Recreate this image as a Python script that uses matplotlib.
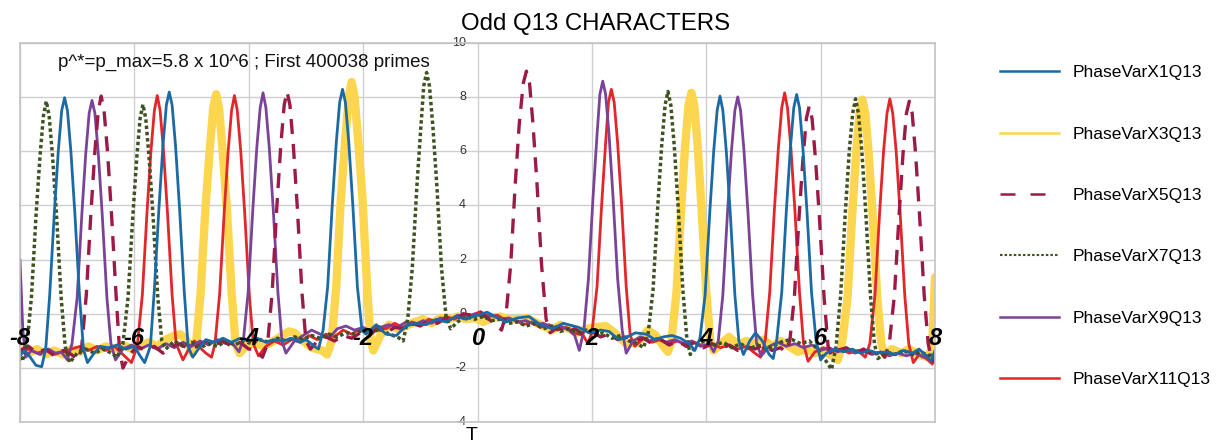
import numpy as np
import matplotlib
matplotlib.use("Agg")
import matplotlib.pyplot as plt
from matplotlib.lines import Line2D

plt.rcParams['font.family'] = ['Liberation Sans', 'DejaVu Sans']

# points (T, value)
phase_x1 = [(-8.0, -1.55), (-7.92, -1.35), (-7.82, -1.6), (-7.72, -1.9), (-7.62, -1.95),
            (-7.55, -1.3), (-7.48, 0.7), (-7.40, 3.7), (-7.33, 6.0), (-7.27, 7.5), (-7.22, 7.97),
            (-7.17, 7.5), (-7.11, 6.0), (-7.04, 3.7), (-6.96, 0.7), (-6.89, -1.3), (-6.82, -1.8),
            (-6.72, -1.5), (-6.6, -1.2), (-6.45, -1.25), (-6.3, -1.15), (-6.15, -1.3), (-6.0, -1.2),
            (-5.9, -1.55), (-5.82, -1.8),
            (-5.72, -1.2), (-5.65, 0.9), (-5.57, 3.9), (-5.50, 6.2), (-5.44, 7.7), (-5.39, 8.18),
            (-5.34, 7.7), (-5.28, 6.2), (-5.21, 3.9), (-5.13, 0.9), (-5.06, -1.2), (-4.98, -1.6),
            (-4.88, -1.3), (-4.75, -0.95), (-4.6, -1.05), (-4.45, -0.9), (-4.3, -1.05), (-4.15, -0.9),
            (-4.0, -1.0), (-3.85, -0.9), (-3.7, -1.05), (-3.55, -0.95), (-3.4, -1.0), (-3.25, -0.9),
            (-3.1, -1.05), (-3.0, -0.95), (-2.85, -1.2), (-2.78, -1.3),
            (-2.70, -0.6), (-2.62, 1.0), (-2.54, 4.0), (-2.47, 6.3), (-2.41, 7.8), (-2.36, 8.28),
            (-2.31, 7.8), (-2.25, 6.3), (-2.18, 4.0), (-2.10, 1.0), (-2.02, -0.6), (-1.95, -0.75),
            (-1.77, -0.4), (-1.6, -0.75), (-1.42, -0.8), (-1.25, -0.45), (-1.07, -0.35), (-0.9, -0.4),
            (-0.72, -0.2), (-0.55, -0.3), (-0.38, -0.1), (-0.2, -0.2), (0.0, -0.05), (0.17, 0.06),
            (0.35, -0.15), (0.5, -0.3), (0.7, -0.15), (0.9, -0.1), (1.1, -0.4), (1.3, -0.55),
            (1.5, -0.35), (1.77, -0.5), (1.95, -0.7), (2.15, -0.6), (2.3, -0.65), (2.47, -0.95),
            (2.62, -0.85), (2.76, -0.7), (2.95, -0.75), (3.1, -0.95), (3.25, -0.85), (3.4, -0.8),
            (3.55, -0.9), (3.7, -1.1), (3.8, -1.35),
            (3.89, -0.9), (3.98, 0.7), (4.06, 3.7), (4.13, 6.0), (4.19, 7.5), (4.24, 8.03),
            (4.29, 7.5), (4.35, 6.0), (4.42, 3.7), (4.50, 0.7), (4.57, -1.0), (4.65, -1.5),
            (4.76, -1.0), (4.86, -0.7), (4.98, -1.0), (5.1, -1.5), (5.17, -1.65),
            (5.23, -1.0), (5.32, 0.8), (5.40, 3.8), (5.47, 6.1), (5.53, 7.6), (5.58, 8.09),
            (5.63, 7.6), (5.69, 6.1), (5.76, 3.8), (5.84, 0.8), (5.92, -1.0), (6.0, -1.7),
            (6.1, -1.45), (6.25, -1.3), (6.4, -1.4), (6.55, -1.3), (6.7, -1.45), (6.85, -1.35),
            (7.0, -1.45), (7.15, -1.4), (7.3, -1.5), (7.45, -1.35), (7.6, -1.45), (7.72, -1.3),
            (7.85, -1.55), (7.93, -1.75), (8.0, -1.35)]

phase_x3 = [(-8.0, -1.3), (-7.85, -1.45), (-7.7, -1.3), (-7.55, -1.5), (-7.4, -1.35), (-7.25, -1.5),
            (-7.1, -1.3), (-6.95, -1.4), (-6.8, -1.2), (-6.65, -1.35), (-6.5, -1.2), (-6.35, -1.3),
            (-6.2, -1.15), (-6.05, -1.3), (-5.9, -1.2), (-5.75, -1.05), (-5.6, -1.2), (-5.45, -0.95),
            (-5.3, -0.8), (-5.2, -0.75), (-5.08, -1.0), (-4.98, -1.45),
            (-4.92, -1.1), (-4.84, 0.8), (-4.76, 3.8), (-4.68, 6.1), (-4.62, 7.6), (-4.57, 8.1),
            (-4.52, 7.6), (-4.46, 6.1), (-4.38, 3.8), (-4.30, 0.8), (-4.23, -1.1), (-4.16, -1.45),
            (-4.05, -1.2), (-3.9, -1.05), (-3.75, -1.2), (-3.6, -1.05), (-3.45, -0.85), (-3.3, -0.65),
            (-3.2, -0.7), (-3.05, -1.0), (-2.9, -1.25), (-2.72, -1.35), (-2.63, -1.5),
            (-2.55, -1.0), (-2.47, 1.0), (-2.39, 4.2), (-2.31, 6.5), (-2.25, 8.0), (-2.2, 8.55),
            (-2.15, 8.0), (-2.09, 6.5), (-2.01, 4.2), (-1.93, 1.0), (-1.87, -1.0), (-1.82, -1.35),
            (-1.7, -0.8), (-1.55, -0.4), (-1.4, -0.55), (-1.25, -0.45), (-1.1, -0.3), (-0.95, -0.2),
            (-0.8, -0.35), (-0.65, -0.15), (-0.5, -0.2), (-0.35, -0.1), (-0.2, -0.2), (-0.05, -0.15),
            (0.1, -0.3), (0.25, -0.15), (0.4, -0.1), (0.55, -0.2), (0.7, -0.2), (0.85, -0.15),
            (1.0, -0.3), (1.15, -0.45), (1.3, -0.6), (1.45, -0.4), (1.6, -0.55), (1.75, -0.7),
            (1.9, -0.55), (2.05, -0.5), (2.24, -0.45), (2.4, -0.7), (2.6, -1.1), (2.8, -1.05),
            (2.98, -0.6), (3.12, -0.8), (3.25, -1.2), (3.33, -1.4),
            (3.39, -1.0), (3.48, 0.8), (3.56, 3.8), (3.63, 6.2), (3.69, 7.7), (3.74, 8.15),
            (3.79, 7.7), (3.85, 6.2), (3.92, 3.8), (4.0, 0.8), (4.07, -1.0), (4.13, -1.35),
            (4.25, -1.1), (4.4, -0.85), (4.55, -1.15), (4.7, -1.0), (4.85, -1.1), (5.0, -0.95),
            (5.15, -1.2), (5.3, -1.0), (5.45, -1.2), (5.6, -1.4), (5.75, -1.3), (5.9, -1.45),
            (6.05, -1.35), (6.2, -1.55), (6.3, -1.7),
            (6.38, -1.0), (6.47, 0.6), (6.55, 3.6), (6.62, 5.9), (6.68, 7.4), (6.73, 7.9),
            (6.78, 7.4), (6.84, 5.9), (6.91, 3.6), (6.99, 0.6), (7.06, -1.1), (7.12, -1.5),
            (7.25, -1.3), (7.4, -1.45), (7.55, -1.3), (7.7, -1.5), (7.88, -1.6), (7.95, -1.2),
            (8.0, 1.35)]

phase_x5 = [(-8.0, -1.35), (-7.85, -1.2), (-7.7, -1.45), (-7.55, -1.3), (-7.4, -1.55), (-7.25, -1.35),
            (-7.1, -1.5), (-6.98, -1.7),
            (-6.92, -1.2), (-6.84, 0.7), (-6.76, 3.7), (-6.69, 6.0), (-6.63, 7.5), (-6.58, 8.03),
            (-6.53, 7.5), (-6.47, 6.0), (-6.40, 3.7), (-6.32, 0.7), (-6.26, -1.3), (-6.2, -2.0),
            (-6.08, -1.5), (-5.95, -1.2), (-5.8, -1.35), (-5.65, -1.2), (-5.5, -1.45), (-5.35, -1.2),
            (-5.2, -1.1), (-5.05, -1.3), (-4.9, -1.2), (-4.75, -1.0), (-4.6, -1.15), (-4.45, -1.0),
            (-4.3, -1.2), (-4.15, -1.05), (-4.0, -1.3), (-3.9, -1.3), (-3.76, -1.6),
            (-3.67, -1.1), (-3.59, 0.8), (-3.51, 3.9), (-3.44, 6.2), (-3.38, 7.7), (-3.33, 8.2),
            (-3.28, 7.7), (-3.22, 6.2), (-3.15, 3.9), (-3.07, 0.8), (-3.0, -1.0), (-2.92, -1.3),
            (-2.8, -1.0), (-2.65, -0.85), (-2.5, -1.0), (-2.35, -0.8), (-2.2, -0.9), (-2.05, -0.7),
            (-1.9, -0.8), (-1.75, -0.55), (-1.6, -0.7), (-1.45, -0.5), (-1.3, -0.55), (-1.15, -0.35),
            (-1.0, -0.45), (-0.85, -0.25), (-0.7, -0.35), (-0.55, -0.15), (-0.4, -0.25), (-0.25, 0.0),
            (-0.1, -0.05), (0.05, 0.05), (0.2, -0.2), (0.35, -0.45), (0.42, -0.6),
            (0.50, 0.0), (0.58, 1.8), (0.66, 4.8), (0.73, 7.0), (0.80, 8.5), (0.855, 8.95),
            (0.91, 8.5), (0.97, 7.0), (1.04, 4.8), (1.12, 1.8), (1.20, -0.2), (1.27, -0.7),
            (1.4, -0.5), (1.55, -0.7), (1.7, -0.55), (1.85, -0.75), (2.0, -0.65), (2.15, -0.85),
            (2.3, -0.75), (2.45, -0.95), (2.6, -0.85), (2.75, -1.0), (2.9, -0.9), (3.05, -1.1),
            (3.2, -0.95), (3.35, -1.15), (3.5, -1.0), (3.65, -1.2), (3.8, -1.05), (3.95, -1.25),
            (4.1, -1.1), (4.25, -1.3), (4.4, -1.15), (4.55, -1.35), (4.7, -1.2), (4.85, -1.3),
            (5.0, -1.15), (5.15, -1.35), (5.3, -1.25), (5.38, -1.4),
            (5.46, -1.0), (5.54, 0.6), (5.62, 3.5), (5.69, 5.7), (5.75, 7.2), (5.8, 7.66),
            (5.85, 7.2), (5.91, 5.7), (5.98, 3.5), (6.06, 0.6), (6.13, -1.2), (6.2, -1.6),
            (6.3, -1.35), (6.45, -1.25), (6.6, -1.45), (6.75, -1.3), (6.9, -1.5), (7.05, -1.4),
            (7.12, -1.6),
            (7.2, -1.1), (7.29, 0.7), (7.37, 3.6), (7.44, 5.9), (7.50, 7.4), (7.55, 7.84),
            (7.60, 7.4), (7.66, 5.9), (7.73, 3.6), (7.81, 0.7), (7.88, -1.1), (7.95, -1.75),
            (8.0, -1.6)]

phase_x7 = [(-8.0, -1.6), (-7.96, -1.75),
            (-7.88, -1.2), (-7.80, 0.6), (-7.72, 3.6), (-7.65, 5.8), (-7.59, 7.3), (-7.54, 7.84),
            (-7.49, 7.3), (-7.43, 5.8), (-7.36, 3.6), (-7.28, 0.6), (-7.21, -1.2), (-7.13, -1.8),
            (-7.0, -1.45), (-6.85, -1.3), (-6.7, -1.45), (-6.55, -1.3), (-6.4, -1.45), (-6.3, -1.6),
            (-6.2, -1.1), (-6.11, 0.6), (-6.03, 3.5), (-5.96, 5.7), (-5.90, 7.2), (-5.85, 7.72),
            (-5.80, 7.2), (-5.74, 5.7), (-5.67, 3.5), (-5.59, 0.6), (-5.52, -1.0), (-5.45, -1.3),
            (-5.3, -1.0), (-5.15, -1.2), (-5.0, -1.05), (-4.85, -1.25), (-4.7, -1.1), (-4.55, -1.2),
            (-4.4, -1.0), (-4.25, -1.15), (-4.1, -1.0), (-3.95, -1.1), (-3.8, -0.95), (-3.65, -1.05),
            (-3.5, -0.9), (-3.35, -1.0), (-3.2, -0.85), (-3.05, -0.95), (-2.9, -0.8), (-2.75, -0.9),
            (-2.6, -0.75), (-2.45, -0.85), (-2.3, -0.7), (-2.15, -0.75), (-2.0, -0.6), (-1.85, -0.7),
            (-1.7, -0.55), (-1.55, -0.75), (-1.4, -0.85), (-1.3, -1.0),
            (-1.22, -0.2), (-1.14, 1.7), (-1.06, 4.7), (-0.99, 6.9), (-0.94, 8.4), (-0.89, 8.9),
            (-0.84, 8.4), (-0.78, 6.9), (-0.71, 4.7), (-0.63, 1.7), (-0.55, -0.1), (-0.47, -0.55),
            (-0.35, -0.3), (-0.2, -0.1), (-0.05, -0.2), (0.1, -0.1), (0.25, -0.25), (0.4, -0.2),
            (0.55, -0.35), (0.7, -0.3), (0.85, -0.45), (1.0, -0.35), (1.15, -0.55), (1.3, -0.45),
            (1.45, -0.65), (1.6, -0.55), (1.75, -0.7), (1.9, -0.6), (2.05, -0.8), (2.2, -0.7),
            (2.35, -0.9), (2.5, -0.8), (2.65, -1.0), (2.8, -1.1), (2.9, -1.25),
            (2.98, -0.8), (3.07, 0.9), (3.15, 3.9), (3.22, 6.2), (3.28, 7.7), (3.33, 8.2),
            (3.38, 7.7), (3.44, 6.2), (3.51, 3.9), (3.59, 0.9), (3.66, -0.9), (3.72, -1.5),
            (3.85, -1.1), (4.0, -1.0), (4.15, -1.15), (4.3, -1.05), (4.45, -1.25), (4.6, -1.1),
            (4.75, -1.3), (4.9, -1.15), (5.05, -1.3), (5.2, -1.15), (5.35, -1.0), (5.5, -0.95),
            (5.65, -1.1), (5.8, -1.0), (5.9, -1.2), (6.05, -1.6), (6.19, -2.05),
            (6.27, -1.2), (6.35, 0.7), (6.43, 3.7), (6.50, 6.0), (6.56, 7.4), (6.61, 7.93),
            (6.66, 7.4), (6.72, 6.0), (6.79, 3.7), (6.87, 0.7), (6.94, -1.1), (7.0, -1.65),
            (7.15, -1.4), (7.3, -1.5), (7.45, -1.35), (7.6, -1.5), (7.75, -1.4), (7.9, -1.55),
            (8.0, -1.5)]

phase_x9 = [(-8.0, 2.0), (-7.95, -0.6), (-7.9, -1.6), (-7.8, -1.35), (-7.65, -1.5), (-7.5, -1.3),
            (-7.38, -1.45), (-7.28, -1.4), (-7.17, -1.7),
            (-7.09, -1.1), (-7.0, 0.6), (-6.92, 3.6), (-6.85, 5.9), (-6.79, 7.4), (-6.74, 7.87),
            (-6.69, 7.4), (-6.63, 5.9), (-6.56, 3.6), (-6.48, 0.6), (-6.41, -1.1), (-6.33, -1.7),
            (-6.2, -1.3), (-6.05, -1.15), (-5.9, -1.3), (-5.75, -1.15), (-5.6, -1.3), (-5.45, -1.1),
            (-5.3, -1.25), (-5.15, -1.05), (-5.0, -1.2), (-4.85, -1.0), (-4.7, -1.15), (-4.55, -0.95),
            (-4.4, -1.1), (-4.3, -1.05), (-4.17, -1.4),
            (-4.09, -0.9), (-4.01, 0.8), (-3.93, 3.8), (-3.86, 6.1), (-3.80, 7.6), (-3.75, 8.15),
            (-3.70, 7.6), (-3.64, 6.1), (-3.57, 3.8), (-3.49, 0.8), (-3.42, -1.0), (-3.35, -1.45),
            (-3.2, -1.0), (-3.05, -0.8), (-2.9, -0.6), (-2.75, -0.75), (-2.6, -0.9), (-2.45, -0.55),
            (-2.3, -0.45), (-2.15, -0.6), (-2.0, -0.5), (-1.85, -0.65), (-1.7, -0.5), (-1.55, -0.4),
            (-1.4, -0.5), (-1.25, -0.3), (-1.1, -0.4), (-0.95, -0.25), (-0.8, -0.35), (-0.65, -0.15),
            (-0.5, -0.25), (-0.35, -0.05), (-0.2, -0.15), (-0.05, 0.0), (0.1, -0.1), (0.25, -0.05),
            (0.4, -0.2), (0.55, -0.15), (0.7, -0.3), (0.85, -0.25), (1.0, -0.4), (1.15, -0.35),
            (1.3, -0.5), (1.45, -0.45), (1.6, -0.6), (1.7, -0.8), (1.78, -1.35),
            (1.86, -0.6), (1.94, 1.3), (2.02, 4.3), (2.09, 6.6), (2.14, 8.1), (2.19, 8.58),
            (2.24, 8.1), (2.30, 6.6), (2.37, 4.3), (2.45, 1.3), (2.53, -0.6), (2.6, -1.45),
            (2.72, -1.0), (2.85, -0.85), (3.0, -1.0), (3.15, -0.9), (3.3, -1.05), (3.45, -0.95),
            (3.6, -1.1), (3.75, -1.0), (3.9, -1.2), (4.05, -1.1), (4.13, -1.4),
            (4.21, -1.0), (4.29, 0.7), (4.37, 3.7), (4.44, 6.0), (4.50, 7.5), (4.55, 8.0),
            (4.60, 7.5), (4.66, 6.0), (4.73, 3.7), (4.81, 0.7), (4.88, -1.1), (4.96, -1.55),
            (5.1, -1.2), (5.25, -1.05), (5.4, -1.2), (5.55, -1.1), (5.7, -1.25), (5.85, -1.15),
            (6.0, -1.35), (6.15, -1.25), (6.3, -1.4), (6.45, -1.3), (6.6, -1.45), (6.75, -1.35),
            (6.9, -1.5), (7.05, -1.4), (7.2, -1.55), (7.35, -1.45), (7.5, -1.55), (7.65, -1.45),
            (7.8, -1.6), (7.92, -1.5), (8.0, -1.55)]

phase_x11 = [(-8.0, -1.4), (-7.85, -1.3), (-7.7, -1.45), (-7.55, -1.35), (-7.4, -1.5), (-7.25, -1.4),
             (-7.1, -1.3), (-6.95, -1.2), (-6.8, -1.35), (-6.65, -1.2), (-6.5, -1.35), (-6.35, -1.2),
             (-6.2, -1.5), (-6.05, -1.8),
             (-5.95, -1.2), (-5.86, 0.7), (-5.78, 3.7), (-5.71, 6.0), (-5.65, 7.5), (-5.6, 8.05),
             (-5.55, 7.5), (-5.49, 6.0), (-5.42, 3.7), (-5.34, 0.7), (-5.27, -1.1), (-5.15, -1.7),
             (-5.05, -1.3), (-4.95, -1.0), (-4.85, -1.25), (-4.75, -1.45), (-4.65, -1.6),
             (-4.59, -1.1), (-4.51, 0.7), (-4.43, 3.7), (-4.36, 6.0), (-4.30, 7.5), (-4.25, 8.05),
             (-4.20, 7.5), (-4.14, 6.0), (-4.07, 3.7), (-3.99, 0.7), (-3.92, -1.1), (-3.83, -1.55),
             (-3.7, -1.2), (-3.55, -1.0), (-3.4, -1.15), (-3.25, -0.95), (-3.1, -1.05), (-2.95, -0.8),
             (-2.8, -0.95), (-2.65, -0.75), (-2.5, -0.85), (-2.35, -0.6), (-2.2, -0.75), (-2.05, -0.55),
             (-1.9, -0.65), (-1.75, -0.45), (-1.6, -0.55), (-1.45, -0.35), (-1.3, -0.5), (-1.15, -0.3),
             (-1.0, -0.4), (-0.85, -0.2), (-0.7, -0.3), (-0.55, -0.1), (-0.4, -0.2), (-0.25, 0.0),
             (-0.1, -0.05), (0.05, 0.08), (0.2, -0.1), (0.35, -0.05), (0.5, -0.25), (0.65, -0.2),
             (0.8, -0.4), (0.95, -0.3), (1.1, -0.5), (1.25, -0.4), (1.4, -0.6), (1.55, -0.5),
             (1.7, -0.7), (1.85, -0.8), (1.93, -1.1),
             (2.0, -0.7), (2.09, 1.0), (2.17, 4.0), (2.24, 6.3), (2.29, 7.8), (2.34, 8.28),
             (2.39, 7.8), (2.45, 6.3), (2.52, 4.0), (2.60, 1.0), (2.67, -0.8), (2.75, -1.2),
             (2.9, -0.9), (3.05, -1.05), (3.2, -0.95), (3.35, -1.1), (3.5, -1.0), (3.65, -1.15),
             (3.8, -1.05), (3.95, -1.2), (4.1, -1.1), (4.25, -1.25), (4.4, -1.15), (4.55, -1.3),
             (4.7, -1.2), (4.85, -1.45), (4.95, -1.6),
             (5.03, -1.0), (5.11, 0.8), (5.19, 3.8), (5.26, 6.1), (5.32, 7.6), (5.37, 8.15),
             (5.42, 7.6), (5.48, 6.1), (5.55, 3.8), (5.63, 0.8), (5.70, -1.1), (5.78, -1.75),
             (5.9, -1.4), (6.05, -1.25), (6.2, -1.4), (6.35, -1.3), (6.5, -1.45), (6.65, -1.35),
             (6.78, -1.6),
             (6.86, -1.1), (6.95, 0.7), (7.03, 3.7), (7.10, 6.0), (7.16, 7.4), (7.21, 7.93),
             (7.26, 7.4), (7.32, 6.0), (7.39, 3.7), (7.47, 0.7), (7.54, -1.1), (7.62, -1.8),
             (7.72, -1.5), (7.85, -1.65), (7.95, -1.85), (8.0, -1.7)]

x_ticks = [-8, -6, -4, -2, 0, 2, 4, 6, 8]
y_ticks = [-4, -2, 0, 2, 4, 6, 8, 10]

series = [
    ("PhaseVarX3Q13", phase_x3, dict(color="#fdd64f", lw=6.0, zorder=2.0)),
    ("PhaseVarX11Q13", phase_x11, dict(color="#e3262a", lw=2.0, zorder=2.1)),
    ("PhaseVarX9Q13", phase_x9, dict(color="#7a4398", lw=2.0, zorder=2.2)),
    ("PhaseVarX5Q13", phase_x5, dict(color="#9c1a45", lw=2.4, dashes=(4.5, 3.0), zorder=2.3)),
    ("PhaseVarX7Q13", phase_x7, dict(color="#3f5222", lw=2.5, dashes=(1.0, 0.8), zorder=2.4)),
    ("PhaseVarX1Q13", phase_x1, dict(color="#1b6aa5", lw=2.0, zorder=2.5)),
]

fig = plt.figure(figsize=(12.25, 4.44), dpi=100)
ax = fig.add_axes([0.0163, 0.0489, 0.7470, 0.8550])

for name, pts, style in series:
    xs, ys = zip(*pts)
    ax.plot(xs, ys, solid_capstyle='round', **style)

ax.set_xlim(-8, 8)
ax.set_ylim(-4, 10)
ax.set_xticks(x_ticks)
ax.set_yticks(y_ticks)
ax.tick_params(length=0, labelbottom=False, labelleft=False)
ax.grid(True, color="#cfcfcf", lw=1.0)
ax.set_axisbelow(True)
for sp in ax.spines.values():
    sp.set_color("#c4c4c4")
    sp.set_linewidth(1.2)

# tick labels sit on the T=0 / value=0 lines
for t in x_ticks:
    ax.text(t, -0.9, str(t), ha='center', va='center', fontsize=17,
            fontweight='bold', fontstyle='italic', color='black', zorder=10)
for v in y_ticks:
    ax.text(-0.2, v, str(v), ha='right', va='center', fontsize=9,
            color='#333333', zorder=1)

ax.text(-4.09, 9.27, "p^*=p_max=5.8 x 10^6 ; First 400038 primes",
        ha='center', va='center', fontsize=13.5, color='#111111')

fig.text(0.486, 0.946, "Odd Q13 CHARACTERS", ha='center', va='center', fontsize=17.3)
fig.text(0.385, 0.02, "T", ha='center', va='center', fontsize=14)

legend_order = ["PhaseVarX1Q13", "PhaseVarX3Q13", "PhaseVarX5Q13",
                "PhaseVarX7Q13", "PhaseVarX9Q13", "PhaseVarX11Q13"]
styles = {name: style for name, pts, style in series}
handles = []
for name in legend_order:
    st = styles[name]
    kw = dict(color=st["color"], lw=1.8)
    if name == "PhaseVarX5Q13":
        kw["dashes"] = (6, 6)
    if name == "PhaseVarX7Q13":
        kw["dashes"] = (1.2, 1.0)
        kw["lw"] = 1.5
    handles.append(Line2D([0], [0], **kw))

fig.legend(handles, legend_order, loc='upper left', bbox_to_anchor=(0.816, 0.853),
           frameon=False, fontsize=12.5, handlelength=3.45, handletextpad=0.75,
           labelspacing=2.66, borderpad=0, borderaxespad=0)

fig.savefig("out.png", dpi=100)
